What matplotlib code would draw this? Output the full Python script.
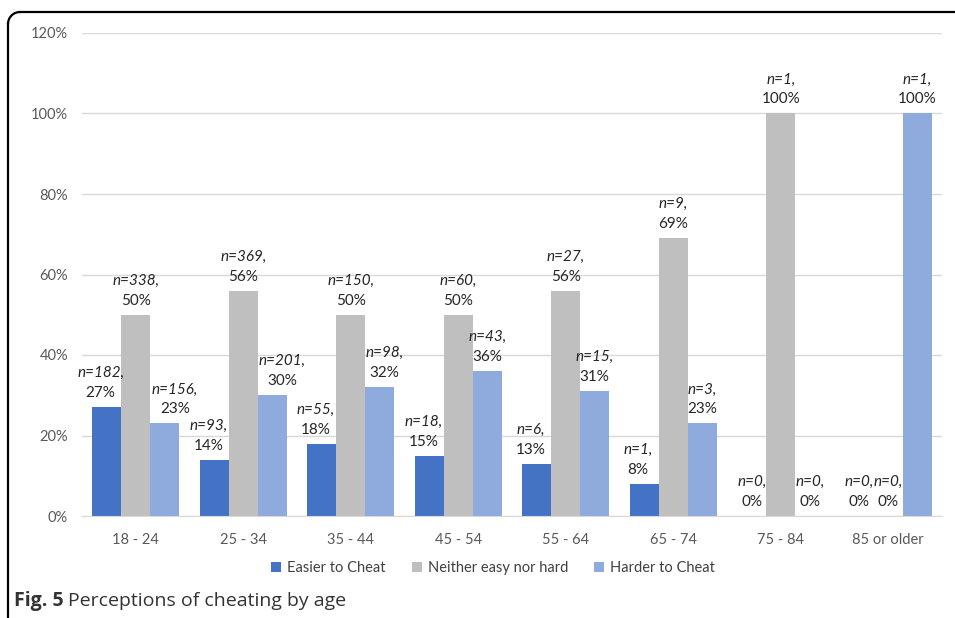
import numpy as np
import matplotlib.pyplot as plt
from matplotlib.patches import Arc

plt.rcParams['font.family'] = ['Lato', 'DejaVu Sans']

ages = ['18 - 24', '25 - 34', '35 - 44', '45 - 54', '55 - 64', '65 - 74', '75 - 84', '85 or older']
series = ['Easier to Cheat', 'Neither easy nor hard', 'Harder to Cheat']
colors = ['#4472c4', '#bfbfbf', '#8faadc']

easier_pct = [27, 14, 18, 15, 13, 8, 0, 0]
neither_pct = [50, 56, 50, 50, 56, 69, 100, 0]
harder_pct = [23, 30, 32, 36, 31, 23, 0, 100]

easier_n = [182, 93, 55, 18, 6, 1, 0, 0]
neither_n = [338, 369, 150, 60, 27, 9, 1, 0]
harder_n = [156, 201, 98, 43, 15, 3, 0, 1]

pcts = [easier_pct, neither_pct, harder_pct]
counts = [easier_n, neither_n, harder_n]

W, H = 955, 618
fig = plt.figure(figsize=(W / 100, H / 100), dpi=100)

# frame around the figure panel, drawn in pixel units
frame = fig.add_axes([0, 0, 1, 1], zorder=-1)
frame.set_xlim(0, W)
frame.set_ylim(H, 0)
frame.axis('off')
r = 12
x0, y0 = 8, 12
frame.plot([x0 + r, W + 5], [y0, y0], color='black', lw=1.6)
frame.plot([x0, x0], [y0 + r, H + 5], color='black', lw=1.6)
frame.add_patch(Arc((x0 + r, y0 + r), 2 * r, 2 * r, theta1=180, theta2=270,
                    color='black', lw=1.6))

ax = fig.add_axes([82 / W, 1 - 516 / H, 860 / W, (516 - 33) / H])
x = np.arange(len(ages))
bw = 0.27
px = 72 / 100  # points per pixel

# sideways nudge (pixels) of the data labels so neighbours don't collide
nudge = [[-6] * 8, [0] * 8, [10, 10, 5, 0, 0, 0, 0, 0]]

for j, (name, col) in enumerate(zip(series, colors)):
    pos = x + (j - 1) * bw
    ax.bar(pos, pcts[j], width=bw, color=col, label=name, zorder=2)
    for i, (xi, p, n) in enumerate(zip(pos, pcts[j], counts[j])):
        dx = nudge[j][i] * px if p > 0 else 0
        ax.annotate(f'{p}%', (xi, p), xytext=(dx, 14 * px), textcoords='offset points',
                    ha='center', va='center', fontsize=11, color='#262626')
        ax.annotate(f'n={n},', (xi, p), xytext=(dx, 34 * px), textcoords='offset points',
                    ha='center', va='center', fontsize=11, color='#262626',
                    style='italic')

ax.set_xlim(-0.5, len(ages) - 0.5)
ax.set_ylim(0, 120)
ax.set_yticks(range(0, 121, 20))
ax.set_yticklabels([f'{v}%' for v in range(0, 121, 20)])
ax.set_xticks(x)
ax.set_xticklabels(ages)
ax.grid(axis='y', color='#d9d9d9', lw=1, zorder=0)
for s in ['top', 'right', 'left']:
    ax.spines[s].set_visible(False)
ax.spines['bottom'].set_color('#d9d9d9')
ax.tick_params(length=0, labelsize=10.5, labelcolor='#595959')
ax.tick_params(axis='x', pad=12)
ax.tick_params(axis='y', pad=10)

fig.legend(loc='center', bbox_to_anchor=(493 / W, 1 - 568 / H), ncol=3, frameon=False,
           fontsize=10.5, handlelength=0.7, handleheight=0.7, handletextpad=0.4,
           columnspacing=1.8, labelcolor='#404040')

fig.text(14 / W, 1 - 601 / H, 'Fig. 5', fontsize=14, fontweight='bold', color='#333333',
         va='center', ha='left', family='Open Sans')
fig.text(68 / W, 1 - 601 / H, 'Perceptions of cheating by age', fontsize=14,
         color='#333333', va='center', ha='left', family='Open Sans')

fig.savefig('out.png', dpi=100)
